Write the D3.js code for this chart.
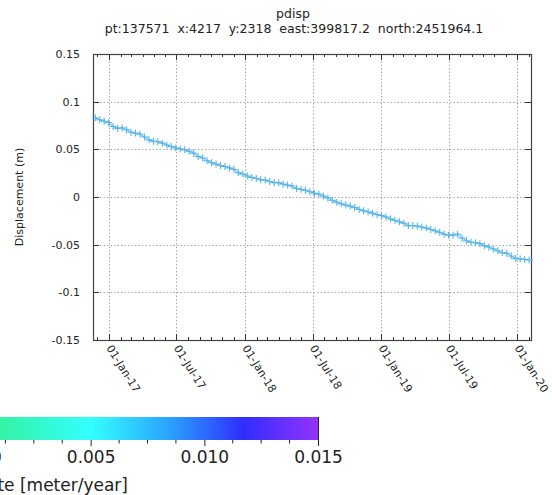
<!DOCTYPE html>
<html>
<head>
<meta charset="utf-8">
<script src="https://cdn.jsdelivr.net/npm/d3@7"></script>
<style>
  body { margin: 0; background: #fff; }
  svg { display: block; font-family: "DejaVu Sans", sans-serif; }
</style>
</head>
<body>
<svg id="chart" width="552" height="495"></svg>
<script>
// acquisition dates (12 day repeat)
const dates = [
  "2016-11-25","2016-12-07","2016-12-19","2016-12-31",
  "2017-01-12","2017-01-24","2017-02-05","2017-02-17","2017-03-01","2017-03-13","2017-03-25","2017-04-06",
  "2017-04-18","2017-04-30","2017-05-12","2017-05-24","2017-06-05","2017-06-17","2017-06-29","2017-07-11",
  "2017-07-23","2017-08-04","2017-08-16","2017-08-28","2017-09-09","2017-09-21","2017-10-03","2017-10-15",
  "2017-10-27","2017-11-08","2017-11-20","2017-12-02","2017-12-14","2017-12-26",
  "2018-01-07","2018-01-19","2018-01-31","2018-02-12","2018-02-24","2018-03-08","2018-03-20","2018-04-01",
  "2018-04-13","2018-04-25","2018-05-07","2018-05-19","2018-05-31","2018-06-12","2018-06-24","2018-07-06",
  "2018-07-18","2018-07-30","2018-08-11","2018-08-23","2018-09-04","2018-09-16","2018-09-28","2018-10-10",
  "2018-10-22","2018-11-03","2018-11-15","2018-11-27","2018-12-09","2018-12-21",
  "2019-01-02","2019-01-14","2019-01-26","2019-02-07","2019-02-19","2019-03-03","2019-03-15","2019-03-27",
  "2019-04-08","2019-04-20","2019-05-02","2019-05-14","2019-05-26","2019-06-07","2019-06-19","2019-07-01",
  "2019-07-13","2019-07-25","2019-08-06","2019-08-18","2019-08-30","2019-09-11","2019-09-23","2019-10-05",
  "2019-10-17","2019-10-29","2019-11-10","2019-11-22","2019-12-04","2019-12-16","2019-12-28",
  "2020-01-09","2020-01-21","2020-02-02"
];

// displacement (m)
const disp = [
  0.083, 0.081, 0.0795, 0.078,
  0.074, 0.072, 0.0725, 0.0705, 0.068, 0.067, 0.066, 0.063,
  0.060, 0.0585, 0.058, 0.0565, 0.0545, 0.053, 0.0515, 0.0505,
  0.0495, 0.048, 0.046, 0.0425, 0.041, 0.038, 0.036, 0.0345,
  0.033, 0.032, 0.0305, 0.029, 0.0255, 0.024,
  0.022, 0.0205, 0.0195, 0.018, 0.0178, 0.0162, 0.015, 0.015,
  0.0135, 0.0125, 0.0115, 0.009, 0.008, 0.007, 0.0055, 0.004,
  0.003, 0.001, -0.001, -0.0035, -0.0055, -0.0072, -0.0085, -0.0095,
  -0.011, -0.013, -0.0145, -0.0155, -0.017, -0.0185,
  -0.0195, -0.021, -0.023, -0.0245, -0.026, -0.0275, -0.030, -0.030,
  -0.0305, -0.0315, -0.0325, -0.034, -0.0355, -0.037, -0.039, -0.040,
  -0.040, -0.039, -0.043, -0.046, -0.0475, -0.048, -0.049, -0.0512,
  -0.0525, -0.0545, -0.0565, -0.0585, -0.059, -0.062, -0.0645,
  -0.065, -0.0655, -0.066
];

const yTicks = [-0.15, -0.1, -0.05, 0, 0.05, 0.1, 0.15];
const yTickLabels = ["-0.15", "-0.1", "-0.05", "0", "0.05", "0.1", "0.15"];

// colorbar
const cbTicks = [0, 0.005, 0.010, 0.015];
const cbTickLabels = ["0.000", "0.005", "0.010", "0.015"];
const cbMinorTicks = [0.00125, 0.0025, 0.00375, 0.00625, 0.0075, 0.00875, 0.01125, 0.0125, 0.01375];
const cbStopValues = [-0.002, 0, 0.005, 0.0085, 0.0117, 0.015];
const cbStopColors = ["#33ee66", "#33f08c", "#33ffff", "#2aa2ff", "#2e2eff", "#9533ff"];

const titleText = "pdisp";
const subTitle = "pt:137571  x:4217  y:2318  east:399817.2  north:2451964.1";

const svg = d3.select("#chart");
const parse = d3.utcParse("%Y-%m-%d");
const pts = dates.map((d, i) => ({ t: parse(d), v: disp[i] }));

const L = 93, R = 531, T = 54, B = 340;

const x = d3.scaleUtc()
  .domain([parse("2016-11-19"), parse("2020-02-07")])
  .range([L, R]);
const y = d3.scaleLinear().domain([-0.15, 0.15]).range([B, T]);

const majors = d3.utcMonth.every(6).range(x.domain()[0], x.domain()[1]);
const minors = d3.utcMonth.every(1).range(x.domain()[0], x.domain()[1]);

// grid
const grid = svg.append("g")
  .attr("stroke", "#a8a8a8")
  .attr("stroke-width", 1)
  .attr("stroke-dasharray", "1.5,2");
grid.selectAll(".gx").data(majors).join("line")
  .attr("x1", d => Math.round(x(d)) + 0.5).attr("x2", d => Math.round(x(d)) + 0.5)
  .attr("y1", T).attr("y2", B);
grid.selectAll(".gy").data(yTicks.slice(1, -1)).join("line")
  .attr("y1", d => Math.round(y(d)) + 0.5).attr("y2", d => Math.round(y(d)) + 0.5)
  .attr("x1", L).attr("x2", R);

// ticks, mirrored, pointing inward
const ticks = svg.append("g").attr("stroke", "#333").attr("stroke-width", 1);
minors.forEach(d => {
  const xx = Math.round(x(d)) + 0.5;
  ticks.append("line").attr("x1", xx).attr("x2", xx).attr("y1", B).attr("y2", B - 3);
  ticks.append("line").attr("x1", xx).attr("x2", xx).attr("y1", T).attr("y2", T + 3);
});
majors.forEach(d => {
  const xx = Math.round(x(d)) + 0.5;
  ticks.append("line").attr("x1", xx).attr("x2", xx).attr("y1", B).attr("y2", B - 6);
  ticks.append("line").attr("x1", xx).attr("x2", xx).attr("y1", T).attr("y2", T + 6);
});
yTicks.forEach(d => {
  const yy = Math.round(y(d)) + 0.5;
  ticks.append("line").attr("x1", L).attr("x2", L + 6).attr("y1", yy).attr("y2", yy);
  ticks.append("line").attr("x1", R).attr("x2", R - 6).attr("y1", yy).attr("y2", yy);
});

// border
svg.append("rect")
  .attr("x", L + 0.5).attr("y", T + 0.5)
  .attr("width", R - L).attr("height", B - T)
  .attr("fill", "none").attr("stroke", "#444").attr("stroke-width", 1.2);

// y tick labels
svg.append("g").selectAll("text").data(yTicks).join("text")
  .attr("x", L - 13).attr("y", d => y(d) + 4)
  .attr("text-anchor", "end")
  .attr("font-size", 11).attr("fill", "#222")
  .text((d, i) => yTickLabels[i]);

// x tick labels, rotated
const fmt = d3.utcFormat("%d-%b-%y");
svg.append("g").selectAll("text").data(majors).join("text")
  .attr("transform", d => `translate(${x(d) - 3},${B + 8}) rotate(58)`)
  .attr("font-size", 11).attr("fill", "#222")
  .text(d => fmt(d));

// axis title
svg.append("text")
  .attr("transform", `translate(23,${(T + B) / 2}) rotate(-90)`)
  .attr("text-anchor", "middle").attr("font-size", 11).attr("fill", "#222")
  .text("Displacement (m)");

// titles
svg.append("text").attr("x", 293).attr("y", 18).attr("text-anchor", "middle")
  .attr("font-size", 12.5).attr("fill", "#222").text(titleText);
svg.append("text").attr("x", 294).attr("y", 33).attr("text-anchor", "middle")
  .attr("font-size", 12.5).attr("fill", "#222")
  .style("white-space", "pre").text(subTitle);

// series: line + crosses
const color = "#56b4e9";
svg.append("path").datum(pts)
  .attr("fill", "none").attr("stroke", color).attr("stroke-width", 1)
  .attr("d", d3.line().x(d => x(d.t)).y(d => y(d.v)));
const cross = svg.append("g").attr("stroke", color).attr("stroke-width", 1.1);
pts.forEach(d => {
  const cx = x(d.t), cy = y(d.v);
  cross.append("line").attr("x1", cx - 3.5).attr("x2", cx + 3.5).attr("y1", cy).attr("y2", cy);
  cross.append("line").attr("x1", cx).attr("x2", cx).attr("y1", cy - 3.5).attr("y2", cy + 3.5);
});

// colorbar (cut by left edge of page, like the reference)
const cb = d3.scaleLinear().domain([0, 0.015]).range([-23, 318]);
const cbTop = 417, cbBot = 440;
const grad = svg.append("defs").append("linearGradient")
  .attr("id", "cbgrad").attr("gradientUnits", "userSpaceOnUse")
  .attr("x1", cb(cbStopValues[0])).attr("x2", cb(0.015)).attr("y1", 0).attr("y2", 0);
grad.selectAll("stop").data(cbStopValues).join("stop")
  .attr("offset", d => (cb(d) - cb(cbStopValues[0])) / (cb(0.015) - cb(cbStopValues[0])))
  .attr("stop-color", (d, i) => cbStopColors[i]);
svg.append("rect")
  .attr("x", cb(cbStopValues[0])).attr("y", cbTop)
  .attr("width", cb(0.015) - cb(cbStopValues[0])).attr("height", cbBot - cbTop)
  .attr("fill", "url(#cbgrad)");
svg.append("line").attr("x1", 318.5).attr("x2", 318.5).attr("y1", cbTop).attr("y2", cbBot)
  .attr("stroke", "#222").attr("stroke-width", 1);

const cbAxis = d3.axisBottom(cb).tickValues(cbTicks).tickFormat((d, i) => cbTickLabels[i])
  .tickSize(6).tickPadding(5);
const cbg = svg.append("g").attr("transform", `translate(0,${cbBot})`).call(cbAxis);
cbg.select(".domain").remove();
cbg.selectAll("text").attr("font-size", 17).attr("font-family", "DejaVu Sans").attr("fill", "#222");
cbg.selectAll("line").attr("stroke", "#222");
svg.append("g").selectAll("line").data(cbMinorTicks).join("line")
  .attr("x1", d => cb(d)).attr("x2", d => cb(d))
  .attr("y1", cbBot).attr("y2", cbBot + 3.5)
  .attr("stroke", "#222");

svg.append("text").attr("x", 128).attr("y", 491).attr("text-anchor", "end")
  .attr("font-size", 17).attr("fill", "#222")
  .text("Displacement rate [meter/year]");
</script>
</body>
</html>
